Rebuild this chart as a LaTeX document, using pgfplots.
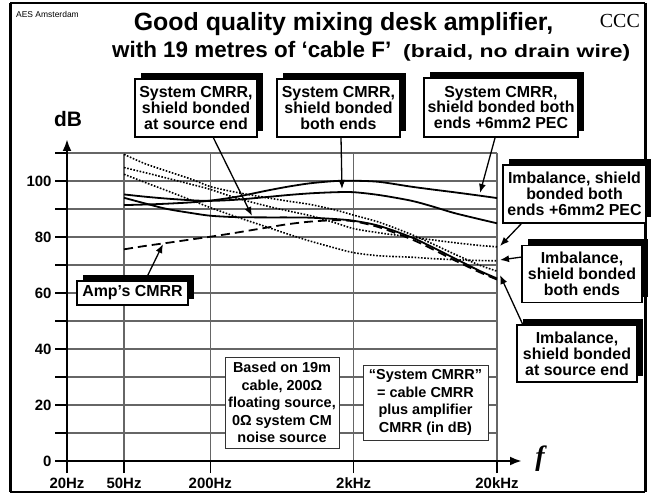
\documentclass[border=0pt]{standalone}
\usepackage{graphicx}
\usepackage{pgfplots}
\pgfplotsset{compat=1.18}
\usepackage{pgfplotstable}
\usepackage{fontspec}
\setmainfont{Liberation Sans}
\newfontfamily\serif{Liberation Serif}
\usetikzlibrary{arrows.meta,shadows}

\pgfplotstableread{
f     pec   both  src   amp   ipec  iboth isrc
50    91.4  95.2  94.0  75.6  104.8 102.4 109.5
70    91.6  94.4  92.0  76.8  103.0 99.5  106.2
100   91.9  93.7  90.0  77.9  101.0 96.5  103.5
150   92.4  93.1  88.5  79.2  98.7  93.0  100.5
200   93.0  92.9  87.6  80.1  97.0  90.5  98.0
300   94.3  93.3  87.1  81.5  94.0  87.3  96.0
500   96.6  94.3  87.0  83.4  91.0  83.5  94.0
700   98.0  95.0  87.0  84.6  89.3  81.0  92.8
1000  99.2  95.6  86.9  85.5  87.6  78.5  91.6
1500  100.0 96.0  86.4  86.0  85.0  76.0  89.6
2000  100.1 96.0  85.8  85.6  83.0  74.4  87.8
3000  99.7  95.0  84.0  83.5  81.5  73.3  85.3
5000  98.0  93.0  80.0  79.3  80.0  72.8  81.0
7000  97.0  91.0  76.5  75.8  79.0  72.3  77.7
10000 96.0  88.6  72.5  71.8  78.0  71.9  74.0
15000 94.8  86.4  68.0  67.5  77.0  71.6  70.0
20000 93.9  84.9  65.2  64.8  76.5  71.5  67.8
}\data

\begin{document}
\begin{tikzpicture}[x=1bp,y=-1bp,
  box/.style={draw=black, line width=1.3bp, fill=white, align=center, inner sep=1bp,
    font=\bfseries\fontsize{16}{16}\selectfont,
    general shadow={fill=black, shadow xshift=6bp, shadow yshift=6bp}},
  pbox/.style={draw=black!80, line width=0.8bp, fill=white, align=center, inner sep=1bp,
    font=\bfseries\fontsize{14.5}{17.5}\selectfont},
  arr/.style={line width=1.3bp, -{Latex[length=9bp,width=7bp]}}]
\useasboundingbox (0,0) rectangle (651,494);

\begin{axis}[at={(67bp,-461bp)}, anchor=south west, scale only axis,
  width=430bp, height=308bp,
  xmode=log, xmin=20, xmax=20000, ymin=0, ymax=110,
  axis lines=left, axis line style={draw=none},
  xtick={20,50,200,2000,20000}, xticklabels={20Hz,50Hz,200Hz,2kHz,20kHz},
  xminorticks=false, minor x tick num=0,
  ytick={0,10,...,110}, yticklabels={0,,20,,40,,60,,80,,100,},
  tick align=outside, major tick length=12bp,
  tick style={black, line width=1.4bp},
  xmajorgrids, ymajorgrids, major grid style={black!60, line width=1.3bp},
  ticklabel style={font=\bfseries\fontsize{15}{15}\selectfont},
  xticklabel style={anchor=north, text height=11bp, text depth=0bp, yshift=-1bp},
  clip=false]
\addplot[black, line width=1.8bp, smooth] table[x=f,y=pec] {\data};
\addplot[black, line width=1.8bp, smooth] table[x=f,y=both] {\data};
\addplot[black, line width=1.8bp, smooth] table[x=f,y=src] {\data};
\addplot[black, line width=1.8bp, smooth, dash pattern=on 9bp off 5bp] table[x=f,y=amp] {\data};
\addplot[black, line width=1.6bp, smooth, dash pattern=on 1.6bp off 1.6bp] table[x=f,y=ipec] {\data};
\addplot[black, line width=1.6bp, smooth, dash pattern=on 1.6bp off 1.6bp] table[x=f,y=iboth] {\data};
\addplot[black, line width=1.6bp, smooth, dash pattern=on 1.6bp off 1.6bp] table[x=f,y=isrc] {\data};
\end{axis}

% axes
\draw[line width=2.5bp, -{Latex[length=12bp,width=9bp]}] (67,461) -- (522,461);
\draw[line width=2.5bp, -{Latex[length=12bp,width=9bp]}] (67,461) -- (67,139);

% frame
\draw[line width=2bp] (10,3) -- (645,3);
\draw[line width=3bp] (10,3) -- (10,492) (645,3) -- (645,492);
\draw[line width=2bp] (10,492) -- (645,492);

% titles
\node[anchor=base west, inner sep=0, font=\fontsize{8.5}{8.5}\selectfont] at (16,18) {AES Amsterdam};
\node[anchor=base east, inner sep=0, font=\serif\fontsize{20}{20}\selectfont] at (640,28) {CCC};
\node[anchor=base, inner sep=0, font=\bfseries\fontsize{25}{25}\selectfont] at (343.5,31) {Good quality mixing desk amplifier,};
\node[anchor=base west, inner sep=0, font=\bfseries\fontsize{22.5}{22.5}\selectfont] at (112,58) {with 19 metres of ‘cable F’};
\node[anchor=base west, inner sep=0, font=\bfseries\fontsize{18}{18}\selectfont] at (403,58) {\scalebox{1.28}[1]{(braid, no drain wire)}};
\node[font=\bfseries\fontsize{21}{21}\selectfont] at (68,119) {dB};
\node[font=\serif\bfseries\itshape\fontsize{28}{28}\selectfont] at (540,459) {f};

% boxes
\node[box, minimum width=122bp, minimum height=58bp] at (196,108) {System CMRR,\\shield bonded\\at source end};
\node[box, minimum width=123bp, minimum height=58bp] at (338.5,108) {System CMRR,\\shield bonded\\both ends};
\node[box, minimum width=154bp, minimum height=59bp] at (501,107.5) {System CMRR,\\shield bonded both\\ends +6mm2 PEC};
\node[box, minimum width=143bp, minimum height=58bp] at (574.5,194) {Imbalance, shield\\bonded both\\ends +6mm2 PEC};
\node[box, minimum width=120bp, minimum height=57bp] at (582,274) {Imbalance,\\shield bonded\\both ends};
\node[box, minimum width=120bp, minimum height=57bp] at (577,353.5) {Imbalance,\\shield bonded\\at source end};
\node[box, minimum width=111bp, minimum height=24bp] at (132.5,293) {Amp’s CMRR};
\node[pbox, minimum width=114bp, minimum height=91bp] at (282,402.5) {Based on 19m\\cable, 200Ω\\floating source,\\0Ω system CM\\noise source};
\node[pbox, minimum width=125bp, minimum height=75bp] at (425.5,402.5) {“System CMRR”\\= cable CMRR\\plus amplifier\\CMRR (in dB)};

% arrows
\draw[arr] (213,137) -- (252,216);
\draw[arr] (341,137) -- (342,189);
\draw[arr] (495,138) -- (480,193);
\draw[arr] (522,223) -- (500,246);
\draw[arr] (522,257) -- (500,260);
\draw[arr] (523,325) -- (500,275);
\draw[arr] (145,281) -- (163,244);
\end{tikzpicture}
\end{document}
